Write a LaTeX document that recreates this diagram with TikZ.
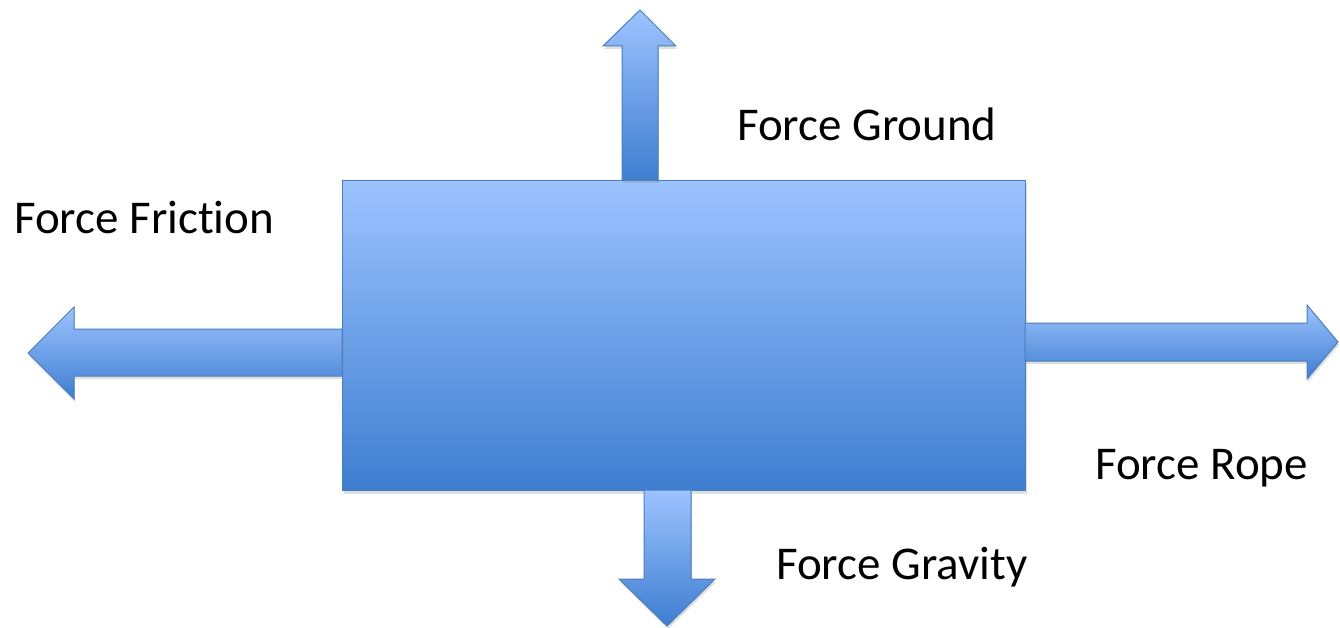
\documentclass[tikz,border=0pt]{standalone}
\usepackage{fontspec}
\setmainfont{Carlito}[Ligatures=NoCommon]
\usepackage{tikz}
\usetikzlibrary{shadows}

\definecolor{boxtop}{RGB}{157,195,255}
\definecolor{boxbottom}{RGB}{62,126,208}
\definecolor{boxline}{RGB}{74,126,187}

\begin{document}
\begin{tikzpicture}[x=1pt, y=-1pt,
  blockshape/.style={draw=boxline, line width=1pt, top color=boxtop, bottom color=boxbottom,
    drop shadow={shadow xshift=1pt, shadow yshift=-3pt, opacity=0.25}},
  forcelabel/.style={anchor=base west, inner sep=0pt, font=\fontsize{47}{56}\selectfont}]
  \useasboundingbox (0,0) rectangle (1340,628);

  % the block
  \node[blockshape, anchor=north west, minimum width=683pt, minimum height=310pt] (crate) at (342,180) {};

  % force arrows
  \draw[blockshape] (622,180) -- (622,46) -- (603,46) -- (640,10) -- (676,46) -- (658,46) -- (658,180) -- cycle;
  \draw[blockshape] (342,329) -- (74,329) -- (74,307) -- (28,353) -- (74,399) -- (74,376) -- (342,376) -- cycle;
  \draw[blockshape] (1025,323) -- (1307,323) -- (1307,305) -- (1338,342) -- (1307,379) -- (1307,361) -- (1025,361) -- cycle;
  \draw[blockshape] (644,490) -- (644,579) -- (619,579) -- (667,626) -- (715,579) -- (691,579) -- (691,490) -- cycle;

  % labels
  \node[forcelabel] (ground) at (737,141) {Force Ground};
  \node[forcelabel] (friction) at (14,234) {Force Friction};
  \node[forcelabel] (rope) at (1095,479) {Force Rope};
  \node[forcelabel] (gravity) at (776,579) {Force Gravity};
\end{tikzpicture}
\end{document}
